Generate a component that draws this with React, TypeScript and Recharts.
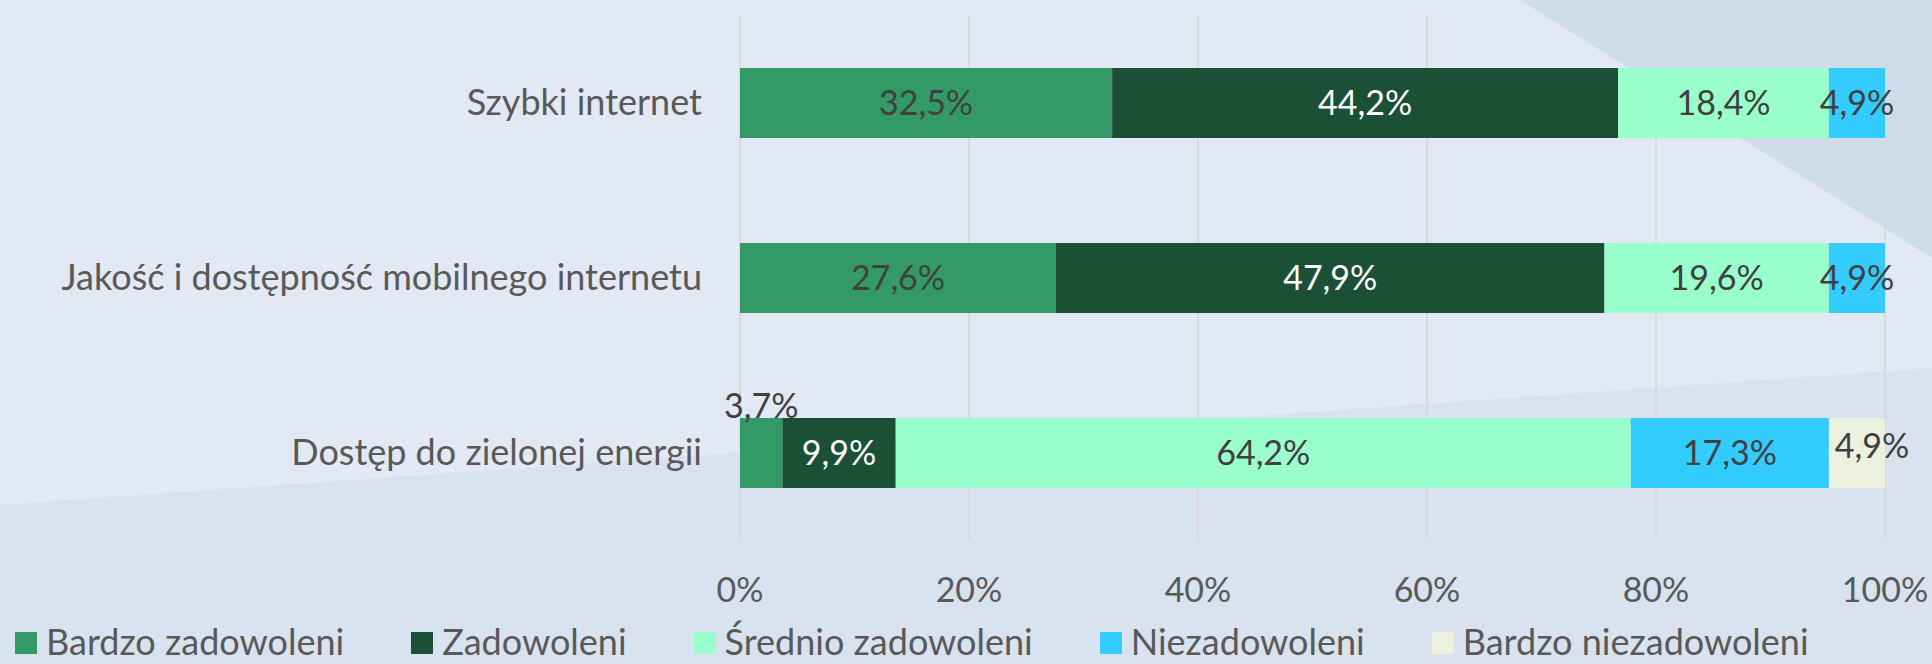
import { Bar, BarChart, CartesianGrid, LabelList, Legend, XAxis, YAxis } from "recharts";

const categories = [
  "Szybki internet",
  "Jakość i dostępność mobilnego internetu",
  "Dostęp do zielonej energii",
];
const bardzoZadowoleni = [32.5, 27.6, 3.7];
const zadowoleni = [44.2, 47.9, 9.9];
const srednioZadowoleni = [18.4, 19.6, 64.2];
const niezadowoleni = [4.9, 4.9, 17.3];
const bardzoNiezadowoleni = [0, 0, 4.9];
const xTicks = [0, 20, 40, 60, 80, 100];

const series = [
  { key: "bz", name: "Bardzo zadowoleni", color: "#339966", text: "#404040", values: bardzoZadowoleni },
  { key: "z", name: "Zadowoleni", color: "#1B5037", text: "#FFFFFF", values: zadowoleni },
  { key: "sz", name: "Średnio zadowoleni", color: "#99FFCC", text: "#404040", values: srednioZadowoleni },
  { key: "n", name: "Niezadowoleni", color: "#33CCFF", text: "#404040", values: niezadowoleni },
  { key: "bn", name: "Bardzo niezadowoleni", color: "#EBF1DE", text: "#404040", values: bardzoNiezadowoleni },
];

const data = categories.map((name, i) => {
  const row: Record<string, string | number> = { name };
  series.forEach((s) => (row[s.key] = s.values[i]));
  return row;
});

const FONT = 34;
const BIG = 36;
const fmt = (v: number) => v.toFixed(1).replace(".", ",") + "%";

function makeLabel(color: string, nudge = false) {
  return (p: any) => {
    const v = Number(p.value);
    if (!v) return null;
    const x = Number(p.x) + Number(p.width) / 2;
    const y = Number(p.y);
    const h = Number(p.height);
    // too narrow: Excel moves it above the bar
    if (v < 4)
      return (
        <text x={x} y={y} textAnchor="middle" fill="#404040" fontSize={FONT}>
          {fmt(v)}
        </text>
      );
    // last label was dragged a bit in the original
    const dx = nudge ? 15 : 0;
    const dy = nudge ? -7 : 0;
    return (
      <text x={x + dx} y={y + h / 2 + dy} dy="0.36em" textAnchor="middle" fill={color} fontSize={FONT}>
        {fmt(v)}
      </text>
    );
  };
}

function LegendRow() {
  return (
    <div style={{ display: "flex", alignItems: "center", height: 34, paddingLeft: 15 }}>
      {series.map((s) => (
        <div key={s.key} style={{ display: "flex", alignItems: "center", marginRight: 67 }}>
          <span style={{ width: 22, height: 22, background: s.color, marginRight: 9, marginTop: 4 }} />
          <span style={{ fontSize: BIG, color: "#595959", lineHeight: "34px" }}>{s.name}</span>
        </div>
      ))}
    </div>
  );
}

export default function App() {
  return (
    <div
      style={{
        position: "absolute",
        left: 0,
        top: 0,
        width: 1932,
        height: 664,
        background: "#E2E9F4",
        fontFamily: "Lato, sans-serif",
        overflow: "hidden",
      }}
    >
      <svg width={1932} height={664} style={{ position: "absolute", left: 0, top: 0 }}>
        <polygon points="1520,0 1932,0 1932,258" fill="#CFDCEA" />
        <polygon points="0,505 1932,368 1932,664 0,664" fill="#D8E3EF" />
      </svg>
      <div style={{ position: "absolute", left: 0, top: 0 }}>
        <BarChart
          width={1932}
          height={664}
          data={data}
          layout="vertical"
          barSize={70}
          margin={{ top: 15, right: 47, bottom: 30, left: 0 }}
        >
          <CartesianGrid horizontal={false} stroke="#D9D9D9" strokeWidth={2} />
          <XAxis
            type="number"
            domain={[0, 100]}
            ticks={xTicks}
            tickFormatter={(v) => `${v}%`}
            axisLine={false}
            tickLine={false}
            tickSize={0}
            tickMargin={38}
            height={60}
            tick={{ fill: "#595959", fontSize: FONT }}
          />
          <YAxis
            type="category"
            dataKey="name"
            width={740}
            axisLine={false}
            tickLine={false}
            tickSize={0}
            tickMargin={38}
            tick={{ fill: "#595959", fontSize: BIG }}
          />
          <Legend
            verticalAlign="bottom"
            content={() => <LegendRow />}
            wrapperStyle={{ top: 624, left: 0, width: 1932, height: 34 }}
          />
          {series.map((s) => (
            <Bar key={s.key} dataKey={s.key} name={s.name} stackId="a" fill={s.color} isAnimationActive={false}>
              <LabelList dataKey={s.key} content={makeLabel(s.text, s.key === "bn")} />
            </Bar>
          ))}
        </BarChart>
      </div>
    </div>
  );
}
